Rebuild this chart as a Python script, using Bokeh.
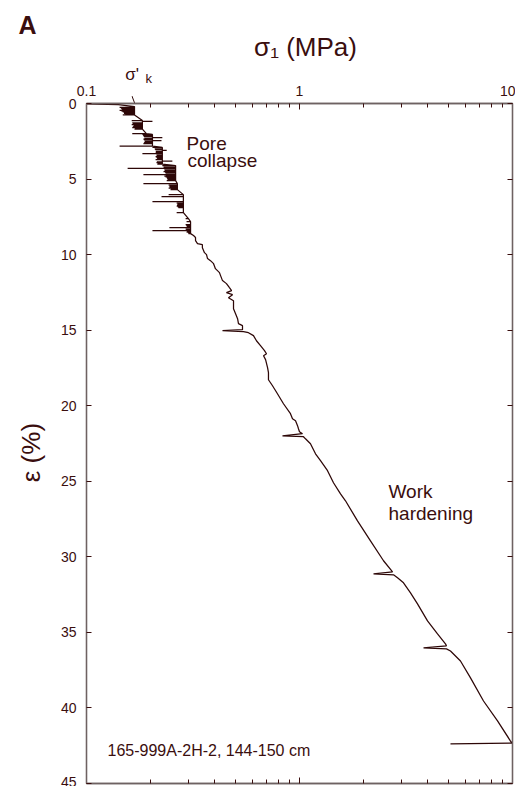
import math
from bokeh.plotting import figure
from bokeh.models import (Range1d, LinearAxis, LogAxis, FixedTicker,
                          NumeralTickFormatter, Label, Arrow, NormalHead)
from bokeh.embed import file_html
from bokeh.resources import INLINE

# Axial stress (MPa) vs axial strain (%) during consolidation, sample 165-999A-2H-2

# Initial loading up to the first yield
lead_stress = [0.100, 0.141, 0.168]
lead_strain = [0.02, 0.08, 0.20]

# Pore-collapse stage: at each strain step the stress drops from the
# yield envelope (base) to a reach value and is reloaded
spike_strain = [
    0.26, 0.31, 0.36, 0.41, 0.46, 0.51, 0.56, 0.61, 0.66, 0.71,
    0.76, 1.13, 1.19, 1.29, 1.34, 1.39, 1.44, 1.49, 1.54, 1.59,
    1.64, 1.69, 1.99, 2.05, 2.10, 2.15, 2.20, 2.25, 2.30, 2.35,
    2.40, 2.45, 2.50, 2.55, 2.60, 2.65, 2.82, 2.91, 3.01, 3.06,
    3.11, 3.16, 3.21, 3.26, 3.31, 3.41, 3.46, 3.51, 3.56, 3.61,
    3.66, 3.71, 3.81, 3.86, 3.91, 3.96, 4.01, 4.11, 4.21, 4.30,
    4.40, 4.45, 4.50, 4.55, 4.60, 4.70, 4.75, 4.80, 4.85, 4.90,
    4.95, 5.00, 5.05, 5.10, 5.30, 5.40, 5.45, 5.50, 5.55, 5.60,
    5.65, 5.70, 6.03, 6.16, 6.49, 6.59, 6.64, 6.69, 6.74, 6.79,
    6.84, 6.89, 7.22, 7.62, 7.81, 8.01, 8.06, 8.11, 8.16, 8.21,
    8.31, 8.36, 8.41, 8.46, 8.51, 8.56, 8.61,
]
spike_base = [
    0.168, 0.168, 0.168, 0.168, 0.168, 0.168, 0.168, 0.168, 0.168, 0.168,
    0.168, 0.183, 0.183, 0.183, 0.183, 0.183, 0.183, 0.183, 0.183, 0.183,
    0.183, 0.183, 0.191, 0.204, 0.204, 0.204, 0.204, 0.204, 0.204, 0.204,
    0.204, 0.204, 0.204, 0.204, 0.204, 0.204, 0.204, 0.227, 0.227, 0.227,
    0.227, 0.227, 0.227, 0.227, 0.227, 0.227, 0.227, 0.227, 0.227, 0.227,
    0.227, 0.227, 0.227, 0.227, 0.227, 0.227, 0.227, 0.262, 0.262, 0.262,
    0.262, 0.262, 0.262, 0.262, 0.262, 0.262, 0.262, 0.262, 0.262, 0.262,
    0.262, 0.262, 0.262, 0.262, 0.267, 0.267, 0.267, 0.267, 0.267, 0.267,
    0.267, 0.267, 0.285, 0.285, 0.285, 0.285, 0.285, 0.285, 0.285, 0.285,
    0.285, 0.285, 0.285, 0.301, 0.308, 0.308, 0.308, 0.308, 0.308, 0.308,
    0.308, 0.308, 0.308, 0.308, 0.308, 0.308, 0.308,
]
spike_reach = [
    0.143, 0.145, 0.146, 0.147, 0.143, 0.146, 0.148, 0.150, 0.150, 0.152,
    0.148, 0.163, 0.204, 0.164, 0.165, 0.163, 0.167, 0.166, 0.165, 0.164,
    0.169, 0.168, 0.164, 0.183, 0.184, 0.185, 0.186, 0.227, 0.187, 0.185,
    0.186, 0.225, 0.188, 0.187, 0.186, 0.185, 0.143, 0.204, 0.209, 0.210,
    0.238, 0.212, 0.211, 0.212, 0.183, 0.213, 0.214, 0.211, 0.213, 0.215,
    0.214, 0.211, 0.253, 0.214, 0.213, 0.216, 0.215, 0.227, 0.230, 0.156,
    0.232, 0.233, 0.230, 0.234, 0.235, 0.185, 0.236, 0.232, 0.235, 0.238,
    0.239, 0.240, 0.240, 0.238, 0.185, 0.243, 0.246, 0.245, 0.246, 0.243,
    0.249, 0.248, 0.243, 0.225, 0.204, 0.265, 0.268, 0.267, 0.266, 0.265,
    0.268, 0.270, 0.265, 0.292, 0.295, 0.292, 0.294, 0.295, 0.296, 0.245,
    0.292, 0.294, 0.204, 0.296, 0.295, 0.300, 0.301,
]

# End of pore collapse, up to the loop at 15 %
trail_stress = [
    0.318, 0.325, 0.325, 0.332, 0.350, 0.350, 0.358, 0.366, 0.370, 0.382,
    0.395, 0.403, 0.421, 0.426, 0.435, 0.454, 0.469, 0.480, 0.454, 0.485,
    0.464, 0.490, 0.490, 0.501, 0.512, 0.517, 0.540, 0.540, 0.435, 0.546,
]
trail_strain = [
    8.74, 8.87, 9.07, 9.27, 9.34, 9.54, 9.87, 10.00, 10.26, 10.40,
    10.60, 10.93, 11.19, 11.39, 11.72, 11.92, 12.19, 12.38, 12.52, 12.65,
    12.85, 13.05, 13.58, 13.91, 14.24, 14.57, 14.70, 14.97, 15.03, 15.10,
]

# Work-hardening stage: near log-linear loading with unload/reload loops
hardening_stress = [
    0.576, 0.608, 0.628, 0.656, 0.685, 0.700, 0.678, 0.693, 0.708, 0.715,
    0.715, 0.747, 0.788, 0.841, 0.907, 0.927, 0.958, 0.979, 0.989, 1.000,
    1.033, 0.832, 1.044, 1.067, 1.126, 1.189, 1.255, 1.354, 1.444, 1.558,
    1.644, 1.872, 2.154, 2.480, 2.734, 2.226, 2.763, 2.885, 3.078, 3.320,
    3.581, 3.990, 4.446, 4.845, 4.898, 3.822, 4.898, 5.115, 5.699, 6.351,
    7.310, 8.505, 9.786, 9.950, 5.115,
]
hardening_strain = [
    15.17, 15.36, 15.70, 16.03, 16.36, 16.56, 16.69, 16.95, 17.48, 17.81,
    18.28, 18.68, 19.21, 19.87, 20.53, 20.86, 21.00, 21.32, 21.52, 21.72,
    21.85, 21.99, 22.05, 22.19, 22.52, 23.18, 23.64, 24.30, 25.10, 25.83,
    26.29, 27.62, 28.94, 30.26, 30.99, 31.13, 31.19, 31.39, 31.72, 32.38,
    33.11, 34.24, 35.10, 35.76, 35.89, 36.03, 36.09, 36.23, 36.89, 38.01,
    39.54, 40.86, 42.19, 42.32, 42.38,
]

# Yield stress marker (sigma'_k)
sigma_k = 0.168

# Axis ticks
x_ticks = [0.1, 1, 10]
x_minor_ticks = [0.2, 0.3, 0.4, 0.5, 0.6, 0.7, 0.8, 0.9,
                 2, 3, 4, 5, 6, 7, 8, 9]
y_ticks = [0, 5, 10, 15, 20, 25, 30, 35, 40, 45]

INK = "#2d0707"
TEXT = "#3a0e0e"
FRAME = "#6e6262"
FONT = "Liberation Sans"

# Assemble the full loading path
path_stress = list(lead_stress)
path_strain = list(lead_strain)
for e, base, reach in zip(spike_strain, spike_base, spike_reach):
    path_stress += [base, reach, base]
    path_strain += [e, e, e]
path_stress += trail_stress + hardening_stress
path_strain += trail_strain + hardening_strain

p = figure(width=515, height=786, x_axis_type="log", x_axis_location="above",
           x_range=Range1d(0.1, 10), y_range=Range1d(45, 0),
           output_backend="svg", toolbar_location=None,
           min_border_left=86, min_border_right=3,
           min_border_top=103, min_border_bottom=3)
p.xgrid.visible = False
p.ygrid.visible = False
p.outline_line_color = FRAME
p.outline_line_width = 1.3
p.background_fill_color = "white"
p.border_fill_color = "white"


def style_axis(ax, show_labels, tick_in, minor_in=0, standoff=8):
    ax.axis_line_color = FRAME
    ax.axis_line_width = 1.3
    ax.major_tick_line_color = TEXT
    ax.minor_tick_line_color = TEXT
    ax.major_tick_in = tick_in
    ax.major_tick_out = 0
    ax.minor_tick_in = minor_in
    ax.minor_tick_out = 0
    ax.major_label_text_font = FONT
    ax.major_label_text_color = TEXT
    if show_labels:
        ax.major_label_text_font_size = "14px"
        ax.major_label_standoff = standoff
    else:
        ax.major_label_text_font_size = "0px"
        ax.major_label_text_alpha = 0
        ax.major_label_standoff = 0


top = p.xaxis[0]
top.ticker = FixedTicker(ticks=x_ticks, minor_ticks=x_minor_ticks)
top.formatter = NumeralTickFormatter(format="0.[0]")
style_axis(top, True, 6, 4, standoff=8)

left = p.yaxis[0]
left.ticker = FixedTicker(ticks=y_ticks, minor_ticks=[])
style_axis(left, True, 5, 0, standoff=10)

right = LinearAxis(ticker=FixedTicker(ticks=y_ticks, minor_ticks=[]))
style_axis(right, False, 5)
p.add_layout(right, "right")

bottom = LogAxis(ticker=FixedTicker(ticks=x_ticks, minor_ticks=x_minor_ticks))
style_axis(bottom, False, 6, 4)
p.add_layout(bottom, "below")

# Stress-strain path
p.line(path_stress, path_strain, line_color=INK, line_width=1.25)


def text(x, y, s, size, place="center", bold=False, **kw):
    p.add_layout(Label(x=x, y=y, text=s, text_font=FONT, text_font_size=size,
                       text_color=TEXT,
                       text_font_style="bold" if bold else "normal", **kw), place)


# Margin texts, positioned in data coordinates so they sit outside the frame
text(1.067, -2.72, "σ₁ (MPa)", "26px", "above", text_align="center")
text(0.152, -1.32, "σ'", "17px", "above")
text(0.189, -1.13, "k", "13px", "above")
p.add_layout(Arrow(end=NormalHead(size=7, fill_color=INK, line_color=INK),
                   x_start=0.158, y_start=-1.06, x_end=sigma_k, y_end=-0.05,
                   line_color=INK, line_width=1), "above")

text(0.0479, -4.30, "A", "25px", "left", bold=True)
text(0.0546, 23.1, "ε (%)", "26px", "left", angle=math.pi / 2,
     text_align="center", text_baseline="middle")

# Stage annotations
text(0.295, 3.31, "Pore", "19px")
text(0.298, 4.44, "collapse", "19px")
text(2.617, 26.36, "Work", "19px")
text(2.617, 27.81, "hardening", "19px")
text(0.1255, 43.38, "165-999A-2H-2, 144-150 cm", "16px")

open("out.html", "w").write(file_html(p, INLINE))
